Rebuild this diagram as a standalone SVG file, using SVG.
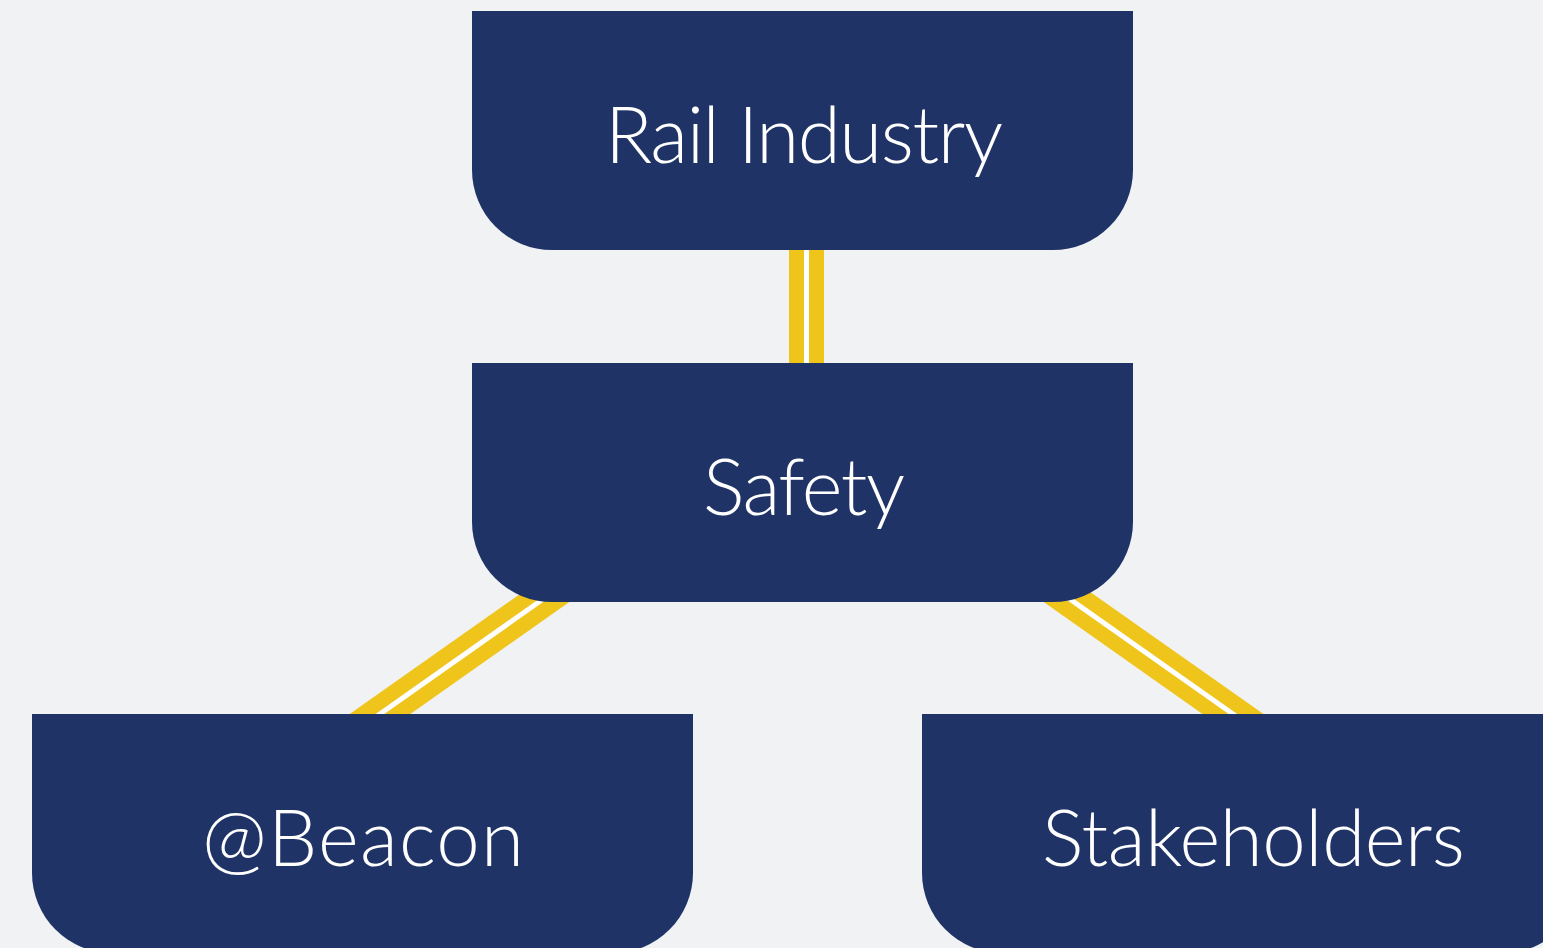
<svg xmlns="http://www.w3.org/2000/svg" width="1543" height="948" viewBox="0 0 1543 948">
  <defs>
    <style>
      .bg { fill: #f1f2f4; }
      .box { fill: #1f3367; }
      .label { fill: #ffffff; font-family: "Lato", "Open Sans", "Liberation Sans", sans-serif; font-weight: 300; font-size: 78px; text-anchor: middle; }
      .rail { stroke: #efc41b; stroke-width: 35; fill: none; }
      .gap { stroke: #ffffff; stroke-width: 5; fill: none; }
    </style>
    <!-- box shape: square top corners, rounded bottom corners (r = 80) -->
    <path id="tab" d="M0,0 H661 V159 A80,80 0 0 1 581,239 H80 A80,80 0 0 1 0,159 Z"/>
  </defs>

  <rect class="bg" x="0" y="0" width="1543" height="948"/>

  <!-- connectors: yellow track with a thin white centre line -->
  <g id="connectors">
    <line class="rail" x1="806.5" y1="200" x2="806.5" y2="400"/>
    <line class="gap" x1="806.5" y1="200" x2="806.5" y2="400"/>
    <line class="rail" x1="669.5" y1="510" x2="292" y2="776"/>
    <line class="gap" x1="669.5" y1="510" x2="292" y2="776"/>
    <line class="rail" x1="943.5" y1="510" x2="1321" y2="776"/>
    <line class="gap" x1="943.5" y1="510" x2="1321" y2="776"/>
  </g>

  <g id="node-rail-industry">
    <use href="#tab" class="box" x="472" y="11"/>
    <text class="label" x="804" y="163" textLength="398" lengthAdjust="spacing">Rail Industry</text>
  </g>

  <g id="node-safety">
    <use href="#tab" class="box" x="472" y="363"/>
    <text class="label" x="804" y="515" textLength="202" lengthAdjust="spacing">Safety</text>
  </g>

  <g id="node-beacon">
    <use href="#tab" class="box" x="32" y="714"/>
    <text class="label" x="363" y="866" textLength="322" lengthAdjust="spacing">@Beacon</text>
  </g>

  <g id="node-stakeholders">
    <use href="#tab" class="box" x="922" y="714"/>
    <text class="label" x="1253.5" y="866" textLength="423" lengthAdjust="spacing">Stakeholders</text>
  </g>
</svg>
